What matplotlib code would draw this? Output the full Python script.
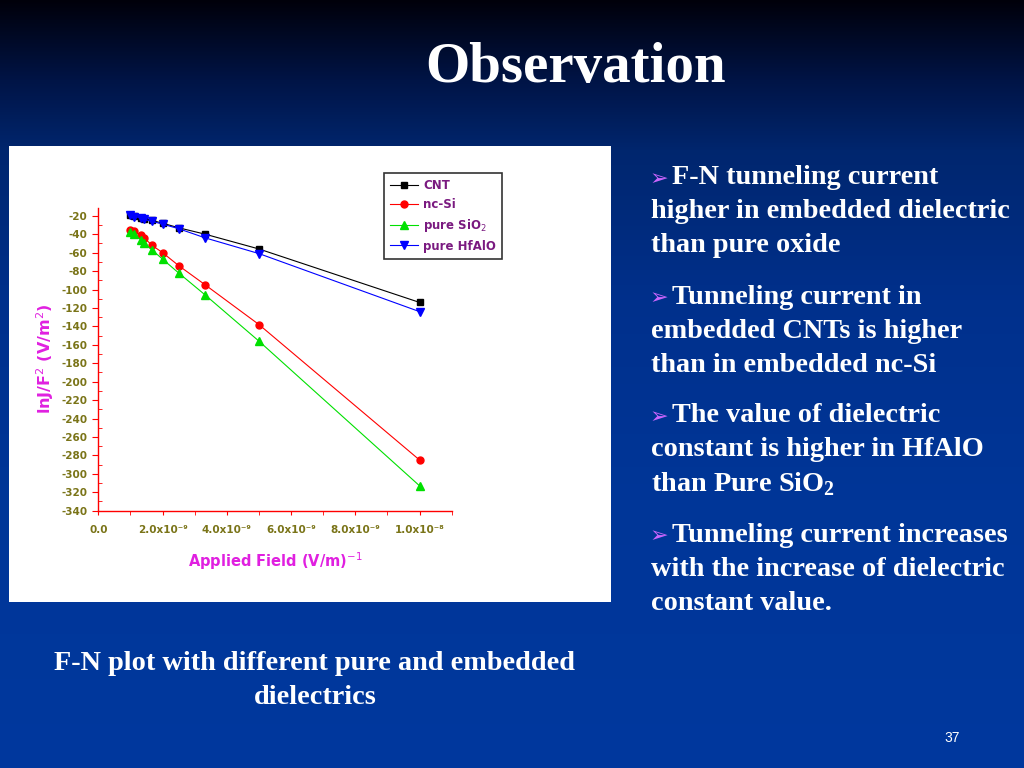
import numpy as np
import matplotlib
matplotlib.use("Agg")
import matplotlib.pyplot as plt
from matplotlib.patches import Rectangle
from matplotlib.ticker import FixedLocator

plt.rcParams["mathtext.fontset"] = "custom"
plt.rcParams["mathtext.rm"] = "DejaVu Sans"
plt.rcParams["mathtext.bf"] = "Liberation Serif:bold"

# ---------------- data ----------------
inv_field = [1.0e-9, 1.11e-9, 1.33e-9, 1.43e-9, 1.67e-9, 2.0e-9, 2.5e-9, 3.33e-9, 5.0e-9, 1.0e-8]
cnt   = [-19, -20, -22, -23, -25, -28, -33, -40, -56, -114]
ncsi  = [-35, -37, -41, -44, -52, -60, -74, -95, -138, -285]
sio2  = [-38, -40, -46, -50, -57, -67, -82, -106, -156, -313]
hfalo = [-19, -21, -22, -24, -26, -29, -34, -44, -61, -124]

series_names = ["CNT", "nc-Si", "pure SiO$_2$", "pure HfAlO"]
x_tick_vals = [0.0, 2e-9, 4e-9, 6e-9, 8e-9, 1e-8]
x_tick_labels = ["0.0", "2.0x10⁻⁹", "4.0x10⁻⁹", "6.0x10⁻⁹", "8.0x10⁻⁹", "1.0x10⁻⁸"]

bullets = [
    ["F-N tunneling current", "higher in embedded dielectric", "than pure oxide"],
    ["Tunneling current in", "embedded CNTs is higher", "than in embedded nc-Si"],
    ["The value of dielectric", "constant is higher in HfAlO", "than Pure SiO$_\\mathbf{2}$"],
    ["Tunneling current increases", "with the increase of dielectric", "constant value."],
]
caption = ["F-N plot with different pure and embedded", "dielectrics"]

W, H = 1024, 768
fig = plt.figure(figsize=(W / 100, H / 100), dpi=100)

# ---------------- background gradient ----------------
bg = fig.add_axes([0, 0, 1, 1])
bg.set_axis_off()
ys = np.array([0, 20, 80, 150, 300, 500, 768])
cols = np.array([[0, 0, 10], [0, 5, 25], [0, 20, 70], [0, 38, 110],
                 [0, 48, 140], [0, 54, 152], [0, 56, 158]]) / 255.0
yy = np.arange(H)
grad = np.stack([np.interp(yy, ys, cols[:, i]) for i in range(3)], axis=1)
img = np.repeat(grad[:, None, :], 4, axis=1)
bg.imshow(img, aspect="auto", extent=[0, W, H, 0], zorder=0)
bg.set_xlim(0, W)
bg.set_ylim(H, 0)

# white chart panel
bg.add_patch(Rectangle((9, 146), 602, 456, facecolor="white", edgecolor="none", zorder=1))

serif = ["Liberation Serif", "DejaVu Serif"]
bg.text(576, 68, "Observation", fontsize=41, fontweight="bold", family=serif,
        color="white", ha="center", va="center", zorder=3)

# bullets
fs = 20.3
y0s = [178, 297, 416, 535]
for b, y0 in zip(bullets, y0s):
    bg.text(650, y0 + 1, "➢", fontsize=16, color="#cc66ff", family=["DejaVu Sans"],
            ha="left", va="center", zorder=3)
    for j, line in enumerate(b):
        x = 672 if j == 0 else 651
        bg.text(x, y0 + 34 * j, line, fontsize=fs, fontweight="bold", family=serif,
                color="white", ha="left", va="center", zorder=3)

for j, line in enumerate(caption):
    bg.text(315, 663 + 34 * j, line, fontsize=fs, fontweight="bold", family=serif,
            color="white", ha="center", va="center", zorder=3)

bg.text(952, 738, "37", fontsize=10, color="white", family=["Liberation Sans"],
        ha="center", va="center", zorder=3)

# ---------------- chart ----------------
left, right, top, bottom = 98.3, 451.7, 207.5, 510.7
ax = fig.add_axes([left / W, 1 - bottom / H, (right - left) / W, (bottom - top) / H])
ax.set_facecolor("none")
ax.set_xlim(0, 1.1e-8)
ax.set_ylim(-340, -11)

styles = [("black", "s", 5), ("red", "o", 5), ("#00e000", "^", 6), ("blue", "v", 6)]
for ys_, name, (c, m, ms) in zip([cnt, ncsi, sio2, hfalo], series_names, styles):
    ax.plot(inv_field, ys_, color=c, marker=m, markersize=ms, lw=0.8,
            markeredgecolor=c, label=name)

for s in ["top", "right"]:
    ax.spines[s].set_visible(False)
for s in ["left", "bottom"]:
    ax.spines[s].set_color("red")
    ax.spines[s].set_linewidth(1.0)

olive = "#7a7418"
yt = list(range(-340, -19, 20))
ax.yaxis.set_major_locator(FixedLocator(yt))
ax.yaxis.set_minor_locator(FixedLocator(list(range(-330, -9, 20))))
ax.xaxis.set_major_locator(FixedLocator(x_tick_vals))
ax.xaxis.set_minor_locator(FixedLocator([1e-9, 3e-9, 5e-9, 7e-9, 9e-9, 1.1e-8]))
ax.set_xticklabels(x_tick_labels)
ax.set_yticklabels([str(v) for v in yt])
ax.tick_params(axis="y", which="major", direction="out", length=4, color="red",
               labelsize=7.5, labelcolor=olive, pad=4)
ax.tick_params(axis="y", which="minor", direction="in", length=3, color="red")
ax.tick_params(axis="x", which="both", direction="out", length=3, color="red",
               labelsize=7.5, labelcolor=olive, pad=7)
for lab in ax.get_xticklabels() + ax.get_yticklabels():
    lab.set_fontweight("bold")

magenta = "#e020e0"
ax.set_xlabel("Applied Field (V/m)$^{-1}$", color=magenta, fontsize=10.5,
              fontweight="bold", labelpad=11)
ax.set_ylabel("lnJ/F$^{2}$ (V/m$^{2}$)", color=magenta, fontsize=11.5,
              fontweight="bold", labelpad=4)

leg = ax.legend(loc="upper left", bbox_to_anchor=(384 / W, 1 - 173 / H),
                bbox_transform=fig.transFigure, frameon=True, fancybox=False,
                fontsize=8.5, handlelength=2.4, borderpad=0.5, labelspacing=0.5,
                handletextpad=0.4, borderaxespad=0)
leg.get_frame().set_edgecolor("black")
leg.get_frame().set_linewidth(1.2)
for t in leg.get_texts():
    t.set_color("#7a1a80")
    t.set_fontweight("bold")

fig.savefig("out.png", dpi=100)
